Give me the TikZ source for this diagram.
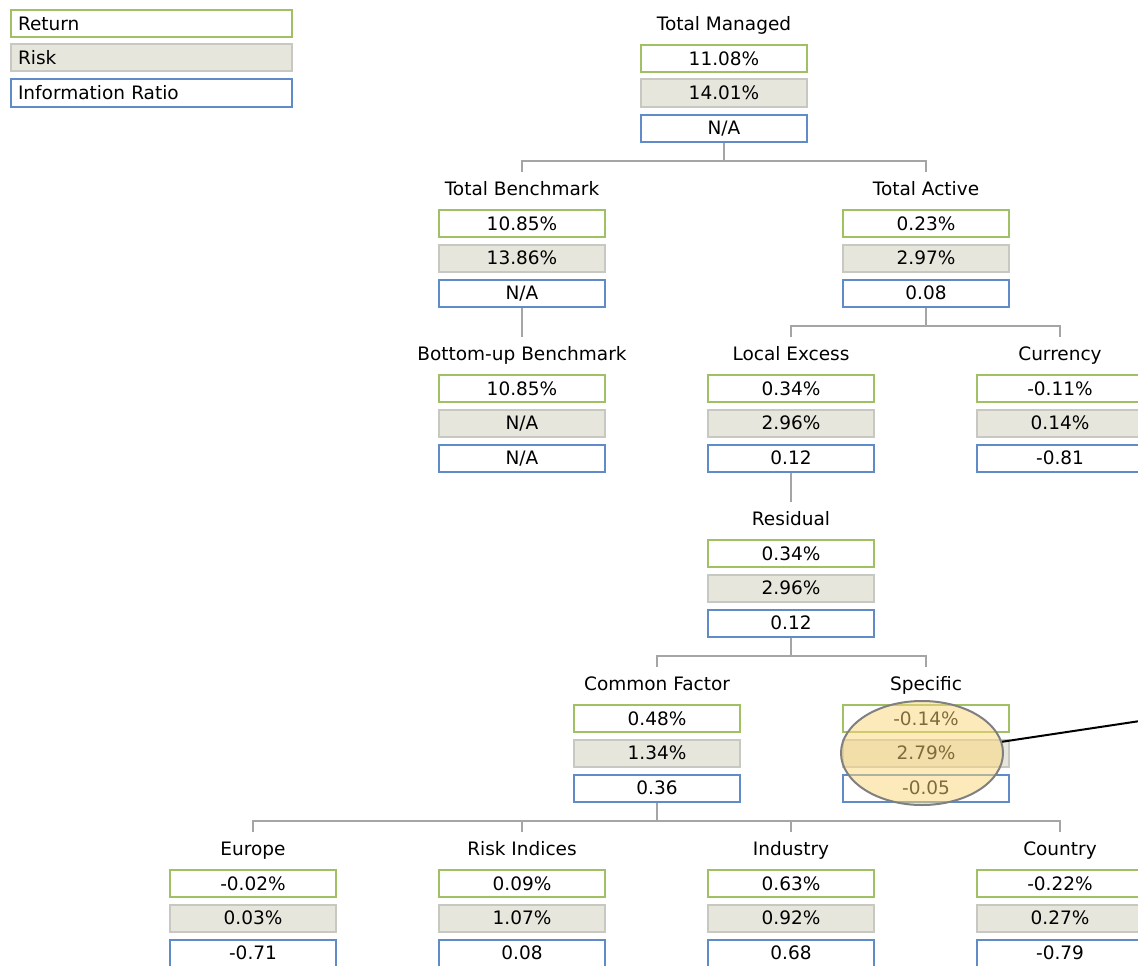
\documentclass[tikz,border=0pt]{standalone}
\usepackage{fontspec}
\setmainfont{DejaVu Sans}
\usetikzlibrary{shapes.geometric}
\definecolor{retc}{RGB}{160,192,100}
\definecolor{riskc}{RGB}{200,200,195}
\definecolor{riskf}{RGB}{230,230,220}
\definecolor{irc}{RGB}{95,140,200}
\definecolor{linec}{RGB}{165,165,165}
\definecolor{hlf}{RGB}{252,215,120}
\newcommand\blk[7]{%
  \node[ttl] (#1-t) at (#2,#3) {#4};
  \node[retbox] (#1-r) at (#2,#3+34.5) {#5};
  \node[riskbox] (#1-k) at (#2,#3+69) {#6};
  \node[irbox] (#1-i) at (#2,#3+104) {#7};}
\begin{document}
\begin{tikzpicture}[x=1pt,y=-1pt,
  every node/.style={font=\fontsize{18.5}{22}\selectfont, inner sep=0pt},
  ttl/.style={minimum height=34pt, text height=15pt, text depth=1.5pt},
  box/.style={minimum width=166pt, minimum height=27pt, line width=2pt, text height=15pt, text depth=1.5pt},
  retbox/.style={box, draw=retc, fill=white},
  riskbox/.style={box, draw=riskc, fill=riskf},
  irbox/.style={box, draw=irc, fill=white},
  leg/.style={text width=267pt, inner xsep=7pt, align=left},
  conn/.style={draw=linec, line width=2pt}]
\useasboundingbox (0,0) rectangle (1138,966);
\clip (0,0) rectangle (1138,966);
% legend
\node[retbox, leg] (lg-r) at (151.5,24) {Return};
\node[riskbox, leg] (lg-k) at (151.5,58) {Risk};
\node[irbox, leg] (lg-i) at (151.5,93) {Information Ratio};
% blocks
\blk{tm}{724}{24}{Total Managed}{11.08\%}{14.01\%}{N/A}
\blk{tb}{522}{189}{Total Benchmark}{10.85\%}{13.86\%}{N/A}
\blk{ta}{926}{189}{Total Active}{0.23\%}{2.97\%}{0.08}
\blk{bu}{522}{354}{Bottom-up Benchmark}{10.85\%}{N/A}{N/A}
\blk{le}{791}{354}{Local Excess}{0.34\%}{2.96\%}{0.12}
\blk{cu}{1060}{354}{Currency}{-0.11\%}{0.14\%}{-0.81}
\blk{re}{791}{519}{Residual}{0.34\%}{2.96\%}{0.12}
\blk{cf}{657}{684}{Common Factor}{0.48\%}{1.34\%}{0.36}
\blk{sp}{926}{684}{Specific}{-0.14\%}{2.79\%}{-0.05}
\blk{eu}{253}{849}{Europe}{-0.02\%}{0.03\%}{-0.71}
\blk{ri}{522}{849}{Risk Indices}{0.09\%}{1.07\%}{0.08}
\blk{ind}{791}{849}{Industry}{0.63\%}{0.92\%}{0.68}
\blk{co}{1060}{849}{Country}{-0.22\%}{0.27\%}{-0.79}
% connectors
\draw[conn] (tm-i.south) -- ++(0,18) coordinate (tm-j);
\draw[conn] (tm-j) -| (tb-t.north);
\draw[conn] (tm-j) -| (ta-t.north);
\draw[conn] (tb-i.south) -- (bu-t.north);
\draw[conn] (ta-i.south) -- ++(0,18) coordinate (ta-j);
\draw[conn] (ta-j) -| (le-t.north);
\draw[conn] (ta-j) -| (cu-t.north);
\draw[conn] (le-i.south) -- (re-t.north);
\draw[conn] (re-i.south) -- ++(0,18) coordinate (re-j);
\draw[conn] (re-j) -| (cf-t.north);
\draw[conn] (re-j) -| (sp-t.north);
\draw[conn] (cf-i.south) -- ++(0,18) coordinate (cf-j);
\draw[conn] (cf-j) -| (eu-t.north);
\draw[conn] (cf-j) -| (ri-t.north);
\draw[conn] (cf-j) -| (ind-t.north);
\draw[conn] (cf-j) -| (co-t.north);
% highlight
\node[ellipse, minimum width=162pt, minimum height=104pt, draw=gray, line width=2pt,
  fill=hlf, fill opacity=0.5] (hl) at (922,753) {};
\coordinate (callout) at (1160,718);
\draw[line width=2pt] (hl.8) -- (callout);
\end{tikzpicture}
\end{document}
